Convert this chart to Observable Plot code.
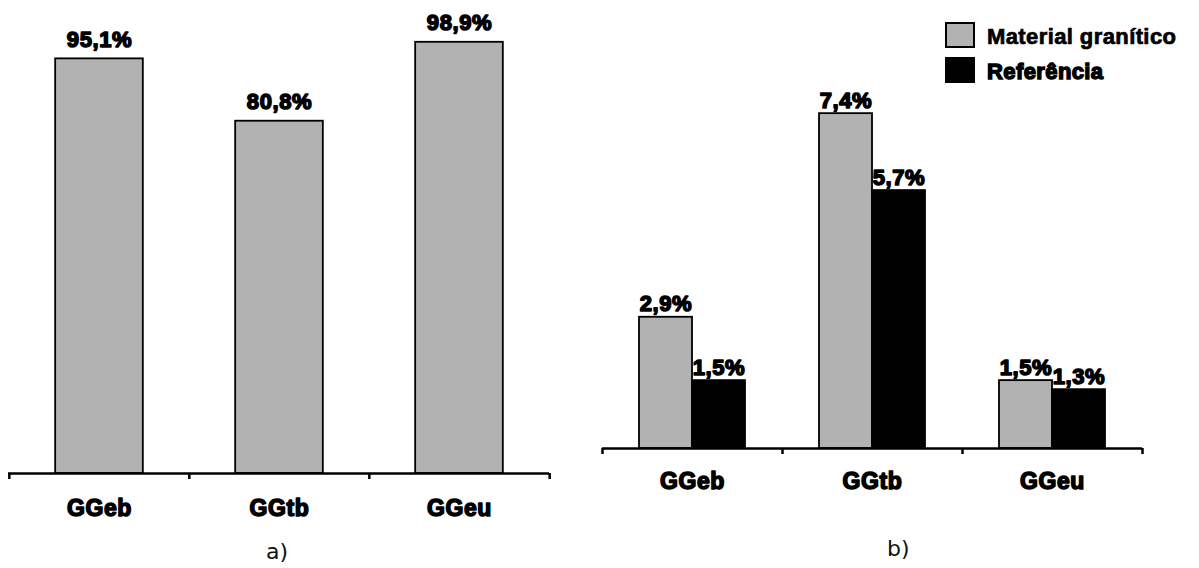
<!DOCTYPE html>
<html><head><meta charset="utf-8">
<script src="https://cdn.jsdelivr.net/npm/d3@7"></script>
<script src="https://cdn.jsdelivr.net/npm/@observablehq/plot@0.6"></script>
<style>
body{margin:0;background:#fff;}
#wrap{position:relative;width:1199px;height:568px;overflow:hidden;font-family:"Liberation Sans",Arial,sans-serif;}
.panel{position:absolute;top:0;}
.panel svg{background:transparent;}
.panel svg text{letter-spacing:0.6px;}
.panel svg text.xlab{letter-spacing:0.8px;}
.sw{position:absolute;box-sizing:border-box;border:2px solid #000;}
.lt{position:absolute;font-family:"Liberation Sans",Arial,sans-serif;font-weight:bold;font-size:22px;line-height:22px;letter-spacing:0.4px;color:#000;white-space:nowrap;}
.cap{position:absolute;font-family:"DejaVu Sans",Verdana,sans-serif;font-size:22px;line-height:22px;color:#111;}
</style></head><body>
<div id="wrap">
  <div id="pa" class="panel" style="left:0px"></div>
  <div id="pb" class="panel" style="left:590px"></div>
</div>
<script>
// ---- data ----
const categories = ["GGeb", "GGtb", "GGeu"];
const valuesA = [95.1, 80.8, 98.9];
const seriesNames = ["Material granítico", "Referência"];
const seriesColors = ["#b2b2b2", "#000000"];
const valuesGranite = [2.9, 7.4, 1.5];
const valuesReference = [1.5, 5.7, 1.3];
const captions = ["a)", "b)"];

const fmt = v => v.toFixed(1).replace(".", ",") + "%";
const textStyle = {fontFamily: '"Liberation Sans", Arial, sans-serif', fontWeight: "bold", fill: "black", stroke: "black", strokeWidth: 1.5};
const H = 530;

// ---- panel a ----
const WA = 600, mlA = 8, mrA = 51;
const bandA = (WA - mlA - mrA) / categories.length;
const barWA = 88;
const dataA = categories.map((c, i) => ({cat: c, value: valuesA[i]}));
const plotA = Plot.plot({
  width: WA, height: H, marginLeft: mlA, marginRight: mrA, marginTop: 37, marginBottom: H - 473,
  x: {domain: categories, padding: 0, axis: null},
  y: {domain: [0, 100], axis: null},
  marks: [
    Plot.barY(dataA, {x: "cat", y: "value", fill: seriesColors[0], stroke: "black", strokeWidth: 1.8,
      insetLeft: (bandA - barWA) / 2, insetRight: (bandA - barWA) / 2}),
    Plot.ruleY([0], {stroke: "black", strokeWidth: 2.5}),
    Plot.ruleX(categories, {x: d => d, dx: -bandA / 2, y1: () => 0, y2: () => 0, insetBottom: -6, stroke: "black", strokeWidth: 2.5}),
    Plot.ruleX([categories[categories.length - 1]], {x: d => d, dx: bandA / 2, y1: () => 0, y2: () => 0, insetBottom: -6, stroke: "black", strokeWidth: 2.5}),
    Plot.text(dataA, {x: "cat", y: "value", text: d => fmt(d.value), dy: -12, lineAnchor: "bottom", fontSize: 22, ...textStyle}),
    Plot.text(categories, {x: d => d, y: () => 0, text: d => d, dy: 26, lineAnchor: "top", fontSize: 23, className: "xlab", ...textStyle})
  ]
});
document.getElementById("pa").appendChild(plotA);

// ---- panel b ----
const WB = 609, mlB = 12, mrB = 57;
const bandB = (WB - mlB - mrB) / categories.length;
const barWB = 53;
const dataG = categories.map((c, i) => ({cat: c, value: valuesGranite[i]}));
const dataR = categories.map((c, i) => ({cat: c, value: valuesReference[i]}));
const plotB = Plot.plot({
  width: WB, height: H, marginLeft: mlB, marginRight: mrB, marginTop: 86, marginBottom: H - 448,
  x: {domain: categories, padding: 0, axis: null},
  y: {domain: [0, 8], axis: null},
  marks: [
    Plot.barY(dataG, {x: "cat", y: "value", fill: seriesColors[0], stroke: "black", strokeWidth: 1.8,
      insetLeft: bandB / 2 - barWB, insetRight: bandB / 2}),
    Plot.barY(dataR, {x: "cat", y: "value", fill: seriesColors[1], stroke: "black", strokeWidth: 1.8,
      insetLeft: bandB / 2, insetRight: bandB / 2 - barWB}),
    Plot.ruleY([0], {stroke: "black", strokeWidth: 2.5}),
    Plot.ruleX(categories, {x: d => d, dx: -bandB / 2, y1: () => 0, y2: () => 0, insetBottom: -6, stroke: "black", strokeWidth: 2.5}),
    Plot.ruleX([categories[categories.length - 1]], {x: d => d, dx: bandB / 2, y1: () => 0, y2: () => 0, insetBottom: -6, stroke: "black", strokeWidth: 2.5}),
    Plot.text(dataG, {x: "cat", y: "value", text: d => fmt(d.value), dx: -barWB / 2, dy: -6, lineAnchor: "bottom", fontSize: 22, ...textStyle}),
    Plot.text(dataR, {x: "cat", y: "value", text: d => fmt(d.value), dx: barWB / 2, dy: -6, lineAnchor: "bottom", fontSize: 22, ...textStyle}),
    Plot.text(categories, {x: d => d, y: () => 0, text: d => d, dy: 24, lineAnchor: "top", fontSize: 23, className: "xlab", ...textStyle})
  ]
});
document.getElementById("pb").appendChild(plotB);

// ---- legend ----
const wrap = document.getElementById("wrap");
const legendTops = [22, 57];
seriesNames.forEach((name, i) => {
  const sw = document.createElement("div");
  sw.className = "sw";
  sw.style.cssText = `left:945px;top:${legendTops[i]}px;width:30px;height:26px;background:${seriesColors[i]};`;
  wrap.appendChild(sw);
  const t = document.createElement("div");
  t.className = "lt";
  t.textContent = name;
  t.style.left = "987px";
  t.style.top = (legendTops[i] + 4) + "px";
  t.style.webkitTextStroke = (i === 1 ? "1.4px" : "0.7px") + " #000";
  wrap.appendChild(t);
});

// ---- captions ----
const capPos = [[277, 541], [898, 538]];
captions.forEach((c, i) => {
  const d = document.createElement("div");
  d.className = "cap";
  d.textContent = c;
  d.style.left = (capPos[i][0] - 11) + "px";
  d.style.top = capPos[i][1] + "px";
  wrap.appendChild(d);
});
</script>
</body></html>
